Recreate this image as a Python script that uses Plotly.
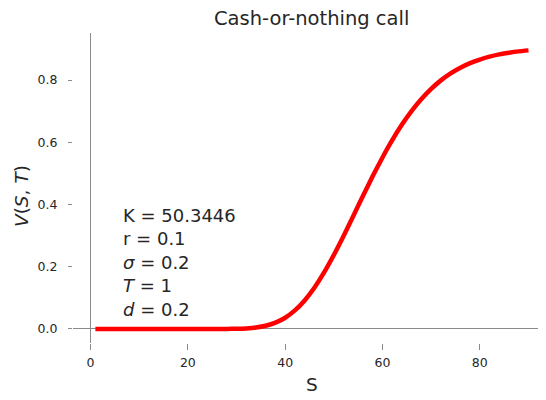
import plotly.graph_objects as go

# Data
S = [1, 5, 10, 15, 20, 24, 26, 28, 30, 32, 34, 36, 38, 40, 42, 44, 46, 48, 50,
     52, 54, 56, 58, 60, 62, 64, 66, 68, 70, 72, 74, 76, 78, 80, 82, 84, 86, 88, 90]
V = [0.0, 0.0, 0.0, 0.0, 0.0, 0.0, 0.00005, 0.0002, 0.00065, 0.0019, 0.0047,
     0.0103, 0.0203, 0.0362, 0.0597, 0.0918, 0.1327, 0.1818, 0.2379,
     0.2991, 0.3633, 0.4280, 0.4912, 0.5512, 0.6067, 0.6567, 0.7008, 0.7391,
     0.7716, 0.7988, 0.8212, 0.8394, 0.8541, 0.8658, 0.8751, 0.8822, 0.8877,
     0.8920, 0.8952]
x_ticks = [0, 20, 40, 60, 80]
y_ticks = [0.0, 0.2, 0.4, 0.6, 0.8]
y_tick_labels = ["0.0", "0.2", "0.4", "0.6", "0.8"]
title_text = "Cash-or-nothing call"
param_lines = ["K = 50.3446", "r = 0.1", "<i>σ</i> = 0.2", "<i>T</i> = 1", "<i>d</i> = 0.2"]

# The page body has an 8px default margin; compensate so the figure lands on the window.
OFF = 8
PAGE_W, PAGE_H = 546, 400
W, H = PAGE_W - OFF, PAGE_H - OFF
# plot area in page pixels: left 73, right 546, top 33, bottom 343
L = 73 - OFF
T = 33 - OFF
R = PAGE_W - 546
B = PAGE_H - 343
pw, ph = W - L - R, H - T - B

def px_x(p):  # page pixel -> paper x
    return (p - OFF - L) / pw

def px_y(p):  # page pixel -> paper y
    return (H - B - (p - OFF)) / ph

font_family = "DejaVu Sans"
text_color = "#262626"
line_grey = "#8a8a8a"

fig = go.Figure()
fig.add_trace(go.Scatter(x=S, y=V, mode="lines",
                         line=dict(color="#ff0000", width=4.5, shape="spline", smoothing=0.5),
                         showlegend=False, hoverinfo="skip"))

fig.update_layout(
    width=W, height=H,
    margin=dict(l=L, r=R, t=T, b=B, pad=0, autoexpand=False),
    paper_bgcolor="white", plot_bgcolor="white",
    font=dict(family=font_family, color=text_color),
    showlegend=False,
)
fig.update_xaxes(
    range=[-3.6, 93.6], tickvals=x_ticks, ticktext=[str(v) for v in x_ticks],
    showgrid=False, showline=False, zeroline=True, zerolinecolor=line_grey, zerolinewidth=1.3,
    ticks="outside", ticklen=6, tickwidth=1, tickcolor=line_grey,
    tickfont=dict(size=12.5, color=text_color, family=font_family),
    ticklabelstandoff=2, automargin=False,
)
fig.update_yaxes(
    range=[-0.045, 0.951], tickvals=y_ticks, ticktext=y_tick_labels,
    showgrid=False, showline=False, zeroline=True, zerolinecolor=line_grey, zerolinewidth=1.3,
    ticks="outside", ticklen=4, tickwidth=1, tickcolor=line_grey,
    tickfont=dict(size=12.5, color=text_color, family=font_family),
    ticklabelstandoff=8, automargin=False,
)

annotations = [
    dict(text=title_text, x=px_x(311.5), y=px_y(19), xref="paper", yref="paper",
         xanchor="center", yanchor="middle", showarrow=False,
         font=dict(size=19.5, color=text_color, family=font_family)),
    dict(text="S", x=px_x(312), y=px_y(384), xref="paper", yref="paper",
         xanchor="center", yanchor="middle", showarrow=False,
         font=dict(size=18.5, color=text_color, family=font_family)),
    dict(text="<i>V</i>(<i>S</i>, <i>T</i>)", x=px_x(21), y=px_y(196), xref="paper", yref="paper",
         xanchor="center", yanchor="middle", showarrow=False, textangle=-90,
         font=dict(size=18.5, color=text_color, family=font_family)),
    dict(text="<br>".join(param_lines), x=px_x(121), y=px_y(262), xref="paper", yref="paper",
         xanchor="left", yanchor="middle", align="left", showarrow=False,
         font=dict(size=18, color=text_color, family=font_family)),
]
fig.update_layout(annotations=annotations)

fig.write_html("out.html")
